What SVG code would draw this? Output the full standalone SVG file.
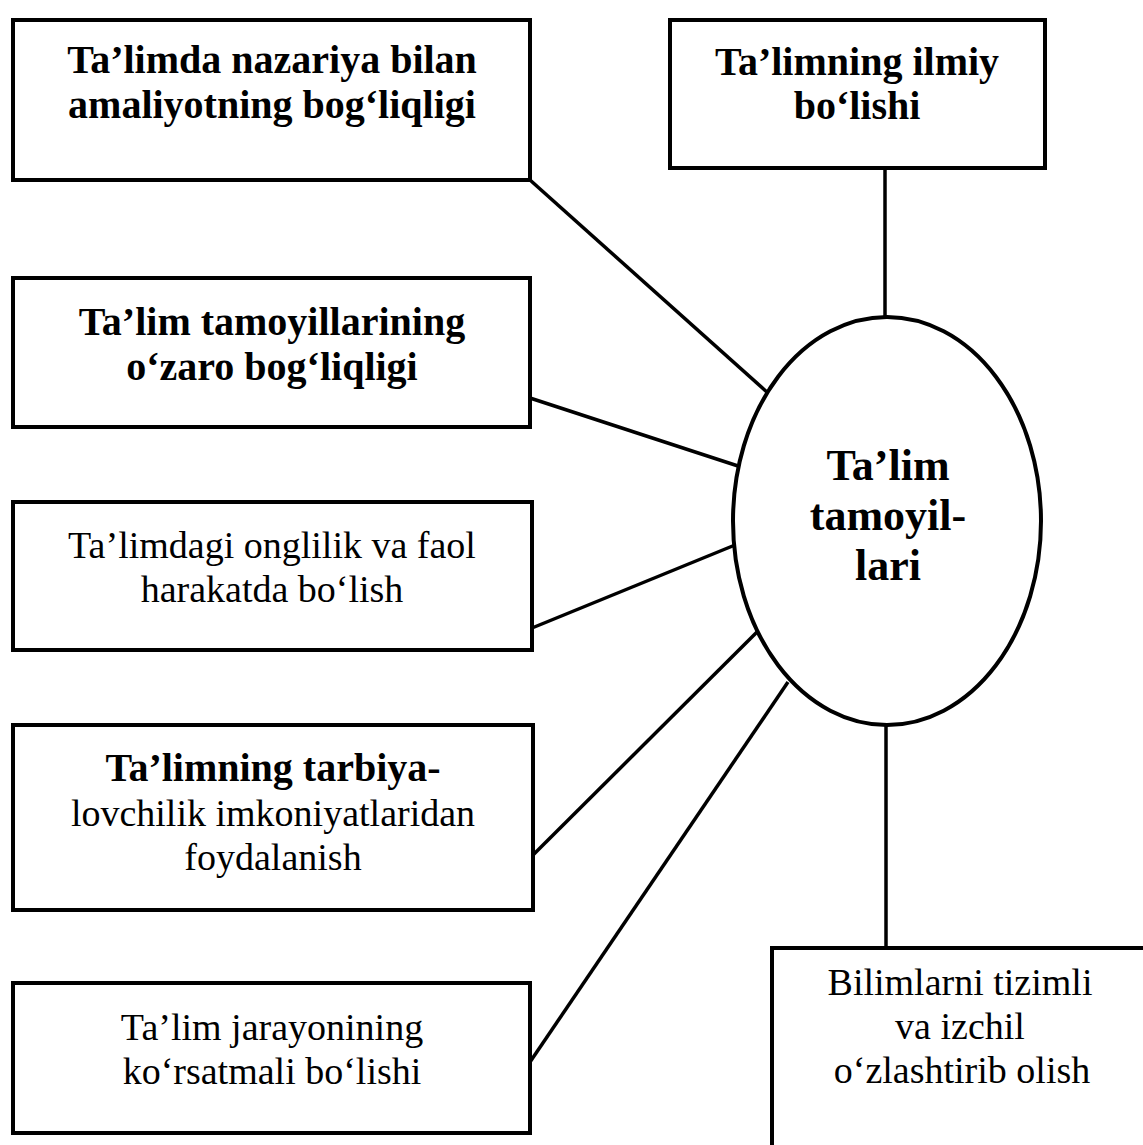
<svg xmlns="http://www.w3.org/2000/svg" width="1143" height="1145" viewBox="0 0 1143 1145">
<style>
.box{fill:#fff;stroke:#000;stroke-width:4}
.conn line{stroke:#000;stroke-width:3.5}
.ell{fill:#fff;stroke:#000;stroke-width:4}
text{font-family:"Liberation Serif","Times New Roman",serif;font-size:38px;fill:#000;text-anchor:middle}
.b{font-weight:bold;font-size:40px}
.c{font-size:44px;font-weight:bold}
</style>
<rect width="1143" height="1145" fill="#fff"/>
<g id="connectors" class="conn">
<line x1="530" y1="180" x2="768" y2="393"/>
<line x1="530" y1="398" x2="738" y2="466"/>
<line x1="532" y1="628" x2="735" y2="545"/>
<line x1="533" y1="855" x2="757" y2="632"/>
<line x1="530" y1="1062" x2="788" y2="682"/>
<line x1="885" y1="168" x2="885" y2="318"/>
<line x1="886" y1="724" x2="886" y2="948"/>
</g>
<g id="center">
<ellipse class="ell" cx="887" cy="521" rx="154" ry="204"/>
<text class="c" x="888" y="480">Ta’lim</text>
<text class="c" x="888" y="530">tamoyil-</text>
<text class="c" x="888" y="580">lari</text>
</g>
<g id="n1">
<rect class="box" x="13" y="20" width="517" height="160"/>
<text class="b" x="272" y="73">Ta’limda nazariya bilan</text>
<text class="b" x="272" y="118">amaliyotning bog‘liqligi</text>
</g>
<g id="n2">
<rect class="box" x="670" y="20" width="375" height="148"/>
<text class="b" x="857" y="75">Ta’limning ilmiy</text>
<text class="b" x="857" y="119">bo‘lishi</text>
</g>
<g id="n3">
<rect class="box" x="13" y="278" width="517" height="149"/>
<text class="b" x="272" y="335">Ta’lim tamoyillarining</text>
<text class="b" x="272" y="380">o‘zaro bog‘liqligi</text>
</g>
<g id="n4">
<rect class="box" x="13" y="502" width="519" height="148"/>
<text x="272" y="558">Ta’limdagi onglilik va faol</text>
<text x="272" y="602">harakatda bo‘lish</text>
</g>
<g id="n5">
<rect class="box" x="13" y="725" width="520" height="185"/>
<text class="b" x="273" y="781">Ta’limning tarbiya-</text>
<text x="273" y="826">lovchilik imkoniyatlaridan</text>
<text x="273" y="870">foydalanish</text>
</g>
<g id="n6">
<rect class="box" x="13" y="983" width="517" height="150"/>
<text x="272" y="1040">Ta’lim jarayonining</text>
<text x="272" y="1084">ko‘rsatmali bo‘lishi</text>
</g>
<g id="n7">
<rect class="box" x="772" y="948" width="400" height="230"/>
<text x="960" y="995">Bilimlarni tizimli</text>
<text x="960" y="1039">va izchil</text>
<text x="962" y="1083">o‘zlashtirib olish</text>
</g>
</svg>
